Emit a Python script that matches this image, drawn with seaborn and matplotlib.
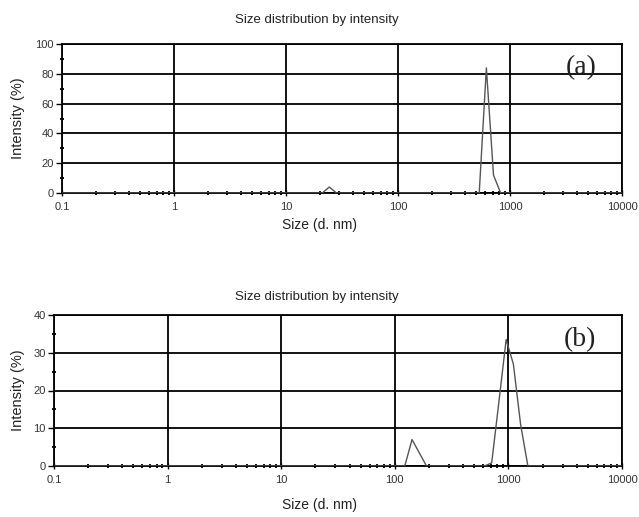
import numpy as np
import pandas as pd
import matplotlib
matplotlib.use("Agg")
import matplotlib.pyplot as plt
import seaborn as sns
from matplotlib.ticker import FixedLocator, LogLocator, NullFormatter, FixedFormatter

# ---- data (Malvern size bins, d.nm) ----
size_a = [0.1, 15.69, 18.17, 21.04, 24.36, 28.21, 32.67, 458.7, 531.2, 615.1, 712.4, 825.0, 955.4, 10000]
intensity_a = [0, 0, 0, 0, 4, 0, 0, 0, 0, 84, 12, 0, 0, 0]

size_b = [0.1, 105.7, 122.4, 141.8, 164.2, 190.1, 220.2, 531.2, 615.1, 712.4, 825.0, 955.4, 1106, 1281, 1484, 1718, 10000]
intensity_b = [0, 0, 0, 7, 3.5, 0, 0, 0, 0, 0.8, 17, 33.5, 27, 11, 0, 0, 0]

xticks = [0.1, 1, 10, 100, 1000, 10000]
xticklabels = ["0.1", "1", "10", "100", "1000", "10000"]
yticks_a = [0, 20, 40, 60, 80, 100]
yticks_b = [0, 10, 20, 30, 40]

title_text = "Size distribution by intensity"
xlabel_text = "Size (d. nm)"
ylabel_text = "Intensity (%)"
panel_labels = ["(a)", "(b)"]

sns.set_style("white")
plt.rcParams["font.family"] = ["Liberation Sans", "DejaVu Sans"]

fig = plt.figure(figsize=(6.39, 5.17), dpi=100)
W, H = 639, 517

def px_axes(l, r, t, b):
    return fig.add_axes([l / W, 1 - b / H, (r - l) / W, (b - t) / H])

ax_a = px_axes(62, 622, 44, 193)
ax_b = px_axes(54, 622, 315, 466)

df_a = pd.DataFrame({"size": size_a, "intensity": intensity_a})
df_b = pd.DataFrame({"size": size_b, "intensity": intensity_b})

for ax, df, yt, ymax, lab in [(ax_a, df_a, yticks_a, 100, panel_labels[0]),
                               (ax_b, df_b, yticks_b, 40, panel_labels[1])]:
    ax.set_xscale("log")
    sns.lineplot(data=df, x="size", y="intensity", ax=ax, color="#555555",
                 linewidth=1.0, estimator=None, sort=False, zorder=3)
    ax.set_xlim(0.1, 10000)
    ax.set_ylim(0, ymax)
    ax.xaxis.set_major_locator(FixedLocator(xticks))
    ax.xaxis.set_major_formatter(FixedFormatter(xticklabels))
    ax.xaxis.set_minor_locator(LogLocator(base=10, subs=np.arange(2, 10)))
    ax.xaxis.set_minor_formatter(NullFormatter())
    ax.set_yticks(yt)
    ax.set_yticklabels([str(v) for v in yt])
    step = yt[1] - yt[0]
    ax.yaxis.set_minor_locator(FixedLocator([v + step / 2 for v in yt[:-1]]))
    ax.grid(True, which="major", color="black", linewidth=1.3)
    ax.set_axisbelow(True)
    for s in ax.spines.values():
        s.set_color("black")
        s.set_linewidth(1.3)
        s.set_visible(True)
    ax.tick_params(axis="both", which="both", bottom=True, left=True, top=False, right=False)
    ax.tick_params(axis="both", which="major", labelsize=8, colors="black",
                   labelcolor="#333333", length=4, width=1.0, direction="out", pad=2)
    ax.tick_params(axis="both", which="minor", length=3.5, width=1.3,
                   direction="inout", colors="black")
    ax.tick_params(axis="x", which="major", direction="inout", length=5, pad=4)
    ax.set_xlabel("")
    ax.set_ylabel("")
    ax.text(0.955, 0.84, lab, transform=ax.transAxes, ha="right", va="center",
            fontsize=20, family=["Liberation Serif", "DejaVu Serif"], color="#222222",
            zorder=5)

# titles and axis labels
fig.text(317 / W, 1 - 20 / H, title_text, ha="center", va="center", fontsize=9.5, color="#222222")
fig.text(319 / W, 1 - 225 / H, xlabel_text, ha="center", va="center", fontsize=10, color="#222222")
fig.text(18 / W, 1 - 118 / H, ylabel_text, ha="center", va="center", rotation=90, fontsize=10.5, color="#222222")

fig.text(317 / W, 1 - 297 / H, title_text, ha="center", va="center", fontsize=9.5, color="#222222")
fig.text(319 / W, 1 - 505 / H, xlabel_text, ha="center", va="center", fontsize=10, color="#222222")
fig.text(18 / W, 1 - 390 / H, ylabel_text, ha="center", va="center", rotation=90, fontsize=10.5, color="#222222")

fig.savefig("out.png", dpi=100, facecolor="white")
